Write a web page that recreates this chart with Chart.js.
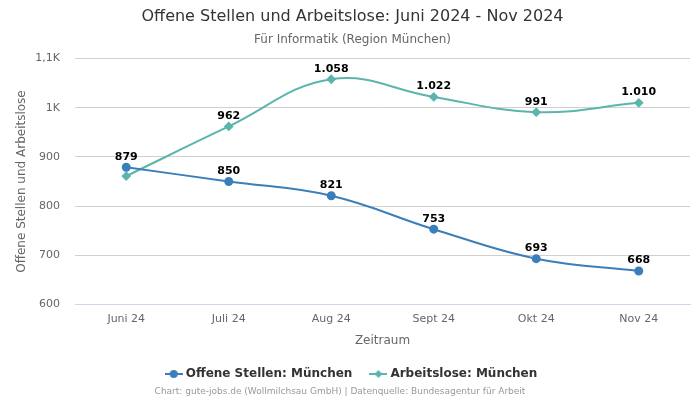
<!DOCTYPE html>
<html>
<head>
<meta charset="utf-8">
<script src="https://cdn.jsdelivr.net/npm/chart.js@4/dist/chart.umd.min.js"></script>
<style>
  html, body { margin: 0; padding: 0; background: #fff; }
  #wrap { width: 700px; height: 400px; }
</style>
</head>
<body>
<div id="wrap"><canvas id="chart" width="700" height="400"></canvas></div>
<script>
// Daten
const monate = ['Juni 24', 'Juli 24', 'Aug 24', 'Sept 24', 'Okt 24', 'Nov 24'];
const offeneStellen = [879, 850, 821, 753, 693, 668];
const arbeitslose = [861, 962, 1058, 1022, 991, 1010];
const arbeitsloseLabels = [false, true, true, true, true, true]; // erster Wert verdeckt

const BLUE = '#3a7fba';
const TEAL = '#5bb5ad';
const FONT = "'DejaVu Sans', sans-serif";

// kleine Legenden-Symbole (Linie mit Marker)
function legendIcon(color, shape) {
    const c = document.createElement('canvas');
    c.width = 18; c.height = 10;
    const g = c.getContext('2d');
    g.strokeStyle = color; g.lineWidth = 2;
    g.beginPath(); g.moveTo(0, 5); g.lineTo(18, 5); g.stroke();
    g.fillStyle = color;
    g.beginPath();
    if (shape === 'circle') {
        g.arc(9, 5, 4, 0, Math.PI * 2);
    } else {
        g.moveTo(9, 1); g.lineTo(13, 5); g.lineTo(9, 9); g.lineTo(5, 5); g.closePath();
    }
    g.fill();
    return c;
}

const fmt = v => v.toLocaleString('de-DE');

// Werte über den Punkten
const valueLabels = {
    id: 'valueLabels',
    afterDatasetsDraw(chart) {
        const ctx = chart.ctx;
        ctx.save();
        ctx.font = "bold 11px " + FONT;
        ctx.fillStyle = '#000';
        ctx.textAlign = 'center';
        ctx.textBaseline = 'bottom';
        chart.data.datasets.forEach((ds, i) => {
            const meta = chart.getDatasetMeta(i);
            meta.data.forEach((pt, j) => {
                if (ds.showLabel && !ds.showLabel[j]) return;
                ctx.fillText(fmt(ds.data[j]), pt.x, pt.y - 5);
            });
        });
        ctx.restore();
    }
};

// Quellenangabe unten
const footer = {
    id: 'footer',
    afterDraw(chart) {
        const ctx = chart.ctx;
        ctx.save();
        ctx.font = "9px " + FONT;
        ctx.fillStyle = '#999';
        ctx.textAlign = 'center';
        ctx.textBaseline = 'middle';
        ctx.fillText('Chart: gute-jobs.de (Wollmilchsau GmbH) | Datenquelle: Bundesagentur für Arbeit', 340, 392);
        ctx.restore();
    }
};

const ctx = document.getElementById('chart').getContext('2d');
new Chart(ctx, {
    type: 'line',
    data: {
        labels: monate,
        datasets: [{
            label: 'Offene Stellen: München',
            data: offeneStellen,
            borderColor: BLUE,
            backgroundColor: BLUE,
            borderWidth: 2,
            pointStyle: 'circle',
            pointRadius: 3.5,
            tension: 0.4,
            fill: false
        }, {
            label: 'Arbeitslose: München',
            data: arbeitslose,
            showLabel: arbeitsloseLabels,
            borderColor: TEAL,
            backgroundColor: TEAL,
            borderWidth: 2,
            pointStyle: 'rectRot',
            pointRadius: 3.5,
            tension: 0.4,
            fill: false
        }]
    },
    options: {
        responsive: false,
        animation: false,
        layout: { padding: { left: 15, right: 10, top: 0, bottom: 10 } },
        plugins: {
            title: {
                display: true,
                text: 'Offene Stellen und Arbeitslose: Juni 2024 - Nov 2024',
                color: '#333',
                font: { family: FONT, size: 16, weight: 'normal' },
                padding: { top: 7, bottom: 4 }
            },
            subtitle: {
                display: true,
                text: 'Für Informatik (Region München)',
                color: '#666',
                font: { family: FONT, size: 12 },
                padding: { top: 2, bottom: 12 }
            },
            legend: {
                position: 'bottom',
                labels: {
                    usePointStyle: true,
                    color: '#333',
                    font: { family: FONT, size: 12, weight: 'bold' },
                    padding: 20,
                    generateLabels(chart) {
                        return chart.data.datasets.map((ds, i) => ({
                            text: ds.label,
                            fontColor: '#333',
                            pointStyle: legendIcon(ds.borderColor, i === 0 ? 'circle' : 'diamond'),
                            datasetIndex: i,
                            hidden: false,
                            lineWidth: 0
                        }));
                    }
                }
            },
            tooltip: { enabled: false }
        },
        scales: {
            x: {
                offset: true,
                grid: { display: false, drawTicks: false },
                border: { color: '#ccd6eb' },
                ticks: { color: '#666', font: { family: FONT, size: 11 }, padding: 8 },
                title: {
                    display: true,
                    text: 'Zeitraum',
                    color: '#666',
                    font: { family: FONT, size: 12 },
                    padding: { top: 0, bottom: 0 }
                }
            },
            y: {
                min: 600,
                max: 1100,
                afterFit(scale) { scale.width = 60; },
                ticks: {
                    stepSize: 100,
                    color: '#666',
                    font: { family: FONT, size: 11 },
                    padding: 15,
                    callback: v => v >= 1000 ? (v / 1000).toLocaleString('de-DE') + 'K' : v
                },
                grid: { color: '#d0d0d0', drawTicks: false },
                border: { display: false },
                title: {
                    display: true,
                    text: 'Offene Stellen und Arbeitslose',
                    color: '#666',
                    font: { family: FONT, size: 12 },
                    padding: { top: 0, bottom: 0 }
                }
            }
        }
    },
    plugins: [valueLabels, footer]
});
</script>
</body>
</html>
